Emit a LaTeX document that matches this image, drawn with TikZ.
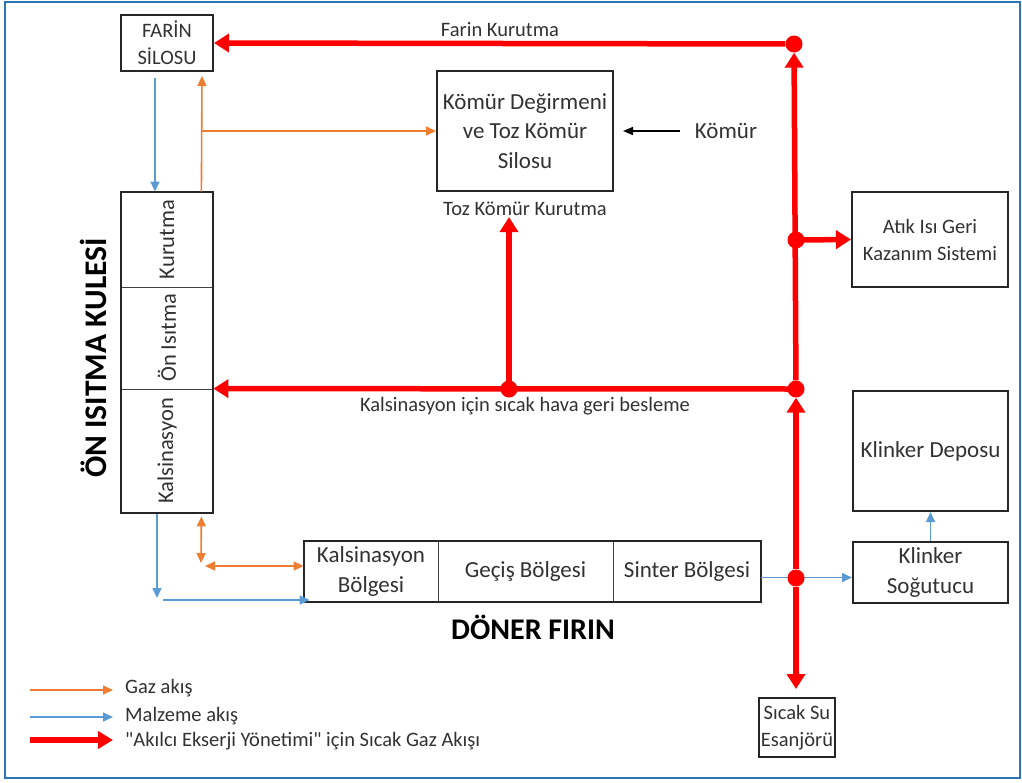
\documentclass[tikz,border=0pt]{standalone}
\usepackage{fontspec}
\setmainfont{Carlito}
\usetikzlibrary{positioning, arrows.meta}
\definecolor{gasorange}{RGB}{237,125,49}
\definecolor{matblue}{RGB}{91,155,213}
\definecolor{hotred}{RGB}{255,0,0}
\definecolor{frameblue}{RGB}{46,117,182}
\definecolor{inkgray}{RGB}{50,50,50}

\begin{document}
\begin{tikzpicture}[
    x=1pt, y=-1pt,
    box/.style={rectangle, draw=black!85, line width=2pt, align=center, text=inkgray, font=\fontsize{23}{29.5}\selectfont, inner sep=2pt},
    smallbox/.style={box, font=\fontsize{20.5}{27}\selectfont},
    zone/.style={rectangle, draw=black!75, line width=0.8pt, align=center, text=inkgray, font=\fontsize{23}{29.5}\selectfont, inner sep=0pt},
    lbl/.style={text=inkgray, font=\fontsize{20.5}{24}\selectfont, inner sep=1pt},
    legendtext/.style={lbl, anchor=west},
    title/.style={text=black, font=\fontsize{30}{36}\selectfont\bfseries, inner sep=0pt},
    dot/.style={circle, fill=hotred, minimum size=17pt, inner sep=0pt},
    gasflow/.style={-{Triangle[length=10pt,width=9pt]}, gasorange, line width=1.6pt},
    gasboth/.style={{Triangle[length=10pt,width=9pt]}-{Triangle[length=10pt,width=9pt]}, gasorange, line width=1.6pt},
    matflow/.style={-{Triangle[length=10pt,width=9pt]}, matblue, line width=1.6pt},
    hotflow/.style={-{Triangle[length=15pt,width=18pt]}, hotred, line width=5.5pt},
    coalflow/.style={-{Triangle[length=10pt,width=8pt]}, black, line width=1.4pt}
  ]
  \useasboundingbox (0,0) rectangle (1022,782);
  \draw[frameblue, line width=2pt] (5,2) rectangle (1020,778);

  % Silos and mill
  \node[smallbox, minimum width=92pt, minimum height=56pt] (farin) at (167,43) {FARİN\\SİLOSU};
  \node[box, minimum width=176pt, minimum height=120pt] (komur) at (525,131) {Kömür Değirmeni\\ve Toz Kömür\\Silosu};
  \node[lbl] (tozlbl) at (525,209) {Toz Kömür Kurutma};
  \node[lbl, font=\fontsize{23}{28}\selectfont] (coal) at (726,131) {Kömür};
  \node[lbl] (farinlbl) at (500,30) {Farin Kurutma};

  % Preheater tower
  \node[zone, minimum width=92pt, minimum height=95pt, label={[lbl, font=\fontsize{22.5}{28}\selectfont, rotate=90]center:Kurutma}] (t1) at (167,239.5) {};
  \node[zone, minimum width=92pt, minimum height=102pt, label={[lbl, font=\fontsize{22.5}{28}\selectfont, rotate=90]center:Ön Isıtma}] (t2) at (167,338) {};
  \node[zone, minimum width=92pt, minimum height=124pt, label={[lbl, font=\fontsize{22.5}{28}\selectfont, rotate=90]center:Kalsinasyon}] (t3) at (167,451) {};
  \draw[black!85, line width=2pt] (t1.north west) rectangle (t3.south east);
  \node[title, font=\fontsize{31.5}{36}\selectfont\bfseries, rotate=90] (towerlbl) at (93,358) {ÖN ISITMA KULESİ};

  % Rotary kiln
  \node[zone, minimum width=134pt, minimum height=61pt] (kz1) at (371,571.5) {Kalsinasyon\\Bölgesi};
  \node[zone, minimum width=175pt, minimum height=61pt] (kz2) at (525.5,571.5) {Geçiş Bölgesi};
  \node[zone, minimum width=148pt, minimum height=61pt] (kz3) at (687,571.5) {Sinter Bölgesi};
  \draw[black!85, line width=2pt] (kz1.north west) rectangle (kz3.south east);
  \node[title] (kilnlbl) at (533,627) {DÖNER FIRIN};

  % Right column
  \node[smallbox, minimum width=156pt, minimum height=95pt] (waste) at (930,239.5) {Atık Isı Geri\\Kazanım Sistemi};
  \node[box, minimum width=155pt, minimum height=120pt] (depot) at (930.5,451) {Klinker Deposu};
  \node[box, minimum width=155pt, minimum height=61pt] (cooler) at (930.5,572.5) {Klinker\\Soğutucu};
  \node[smallbox, minimum width=74pt, minimum height=59pt] (hotwater) at (797,727.5) {Sıcak Su\\Esanjörü};

  % Gas and material flows
  \coordinate (gasbranch) at (201,131);
  \coordinate (gascorner) at (201,566);
  \coordinate (matcorner) at (157,600);
  \draw[gasflow, shorten >=4pt] ([xshift=-12pt]t1.north east) -- ([xshift=-12pt]farin.south east);
  \draw[gasflow] (gasbranch) -- (komur.west);
  \draw[gasboth, shorten >=3pt, shorten <=3pt] ([xshift=-12pt]t3.south east) -- (gascorner);
  \draw[gasboth, shorten <=2pt] ([xshift=2pt]gascorner) -- (gascorner -| kz1.west);
  \draw[matflow, shorten <=6pt] ([xshift=-12pt]farin.south) -- ([xshift=-12pt]t1.north);
  \draw[matflow, shorten <=1pt, shorten >=2pt] ([xshift=-10pt]t3.south) -- (matcorner);
  \draw[matflow] ([xshift=6pt]matcorner) -- ([xshift=6pt]matcorner -| kz1.west);
  \draw[matflow] ([yshift=-6pt]kz3.east) -- ([yshift=-6pt]kz3.east -| cooler.west);
  \draw[matflow] (cooler) -- (depot);
  \draw[coalflow, shorten <=14pt, shorten >=9pt] (coal.west) -- (komur.east);

  % Hot gas network
  \node[dot] (jtop) at (794,44) {};
  \node[dot] (jwaste) at (796,240) {};
  \node[dot] (jfeed) at (796,389) {};
  \node[dot] (jcoal) at (509,389) {};
  \node[dot] (jkiln) at (796,578) {};
  \draw[hotflow] (jtop) -- (farin.east);
  \draw[hotflow] (jfeed) -- (jtop);
  \draw[hotflow] (jkiln) -- (jfeed);
  \draw[hotflow, shorten >=8pt] (jkiln) -- (jkiln |- hotwater.north);
  \draw[hotflow] (jwaste.center) -- (waste.west);
  \draw[hotflow] (jfeed.center) -- (t3.north east);
  \draw[hotflow] (jcoal.center) -- (jcoal |- tozlbl.south);
  \node[lbl] (feedlbl) at (525,406) {Kalsinasyon için sıcak hava geri besleme};

  % Legend
  \node[legendtext] (leggas) at (124,688) {Gaz akış};
  \node[legendtext] (legmat) at (124,716) {Malzeme akış};
  \node[legendtext] (leghot) at (124,741) {\textquotedbl Akılcı Ekserji Yönetimi\textquotedbl{} için Sıcak Gaz Akışı};
  \coordinate (lg1) at (30,690);
  \coordinate (lg2) at (30,717);
  \coordinate (lg3) at (30,740);
  \draw[gasflow] (lg1) -- (lg1 -| 113,0);
  \draw[matflow] (lg2) -- (lg2 -| 113,0);
  \draw[hotflow, line width=6pt, -{Triangle[length=15pt,width=17pt]}] (lg3) -- (lg3 -| 113,0);
\end{tikzpicture}
\end{document}
